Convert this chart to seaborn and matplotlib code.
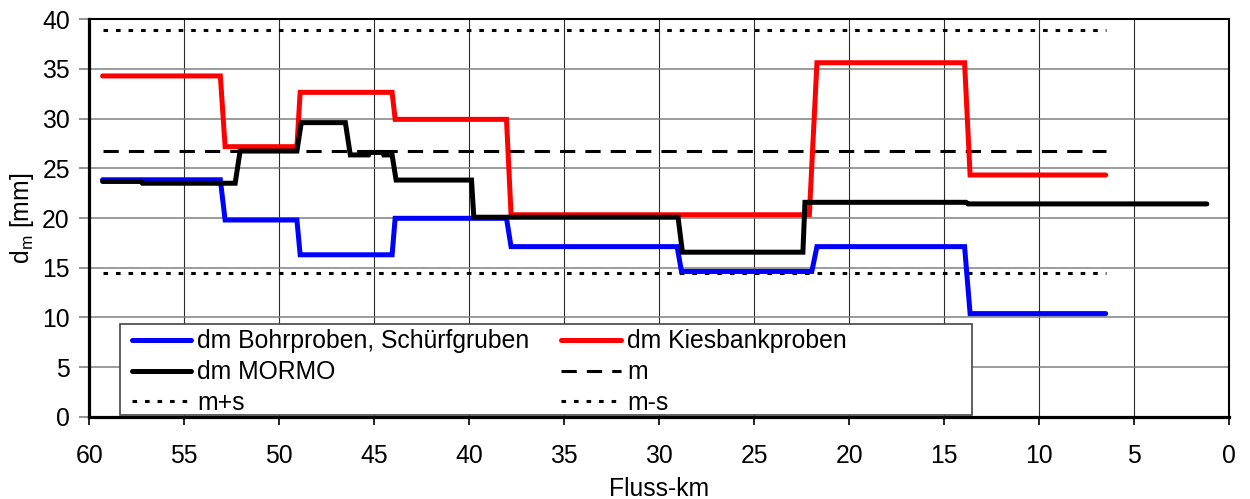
import matplotlib
matplotlib.use("Agg")
import matplotlib.pyplot as plt
import seaborn as sns
import numpy as np
from matplotlib.patches import Rectangle

# ---- data ----
blue_km = [59.3, 53.1, 52.85, 49.07, 48.9, 44.06, 43.9, 38.04, 37.8, 29.06, 28.83, 21.97, 21.7, 13.93, 13.64, 6.5]
blue_dm = [23.85, 23.85, 19.8, 19.8, 16.3, 16.3, 19.97, 19.97, 17.12, 17.12, 14.62, 14.62, 17.12, 17.12, 10.38, 10.38]

red_km = [59.3, 53.1, 52.85, 49.07, 48.9, 44.06, 43.9, 38.04, 37.8, 22.1, 21.7, 13.93, 13.64, 6.5]
red_dm = [34.3, 34.3, 27.18, 27.18, 32.65, 32.65, 29.93, 29.93, 20.33, 20.33, 35.63, 35.63, 24.33, 24.33]

black_km = [59.3, 57.3, 57.2, 52.32, 52.06, 49.07, 48.84, 46.52, 46.26, 45.3, 45.25, 44.55, 44.5, 44.06,
            43.85, 39.88, 39.76, 29.01, 28.78, 22.44, 22.33, 13.85, 13.75, 1.18]
black_dm = [23.68, 23.68, 23.5, 23.5, 26.74, 26.74, 29.6, 29.6, 26.35, 26.35, 26.6, 26.6, 26.35, 26.35,
            23.82, 23.82, 20.08, 20.08, 16.56, 16.56, 21.58, 21.58, 21.42, 21.42]

stat_km = [59.3, 6.5]
m_val = 26.7
m_plus_s = 38.9
m_minus_s = 14.45

labels = ["dm Bohrproben, Schürfgruben", "dm Kiesbankproben", "dm MORMO", "m", "m+s", "m-s"]

# ---- style ----
sns.set_style("white")
plt.rcParams["font.family"] = ["Liberation Sans", "DejaVu Sans"]
plt.rcParams["mathtext.fontset"] = "custom"
plt.rcParams["mathtext.rm"] = "Liberation Sans"
plt.rcParams["text.color"] = "black"
plt.rcParams["axes.labelcolor"] = "black"
FS = 17.8

fig = plt.figure(figsize=(12.5, 4.99), dpi=100)
ax = fig.add_axes([0.0714, 0.1649, 0.912, 0.7964])

dot = (0, (1.5, 2.6))
dash = (0, (5.0, 3.3))
ls_w = 2.2
lw = 3.6

h_ms = sns.lineplot(x=stat_km, y=[m_minus_s] * 2, ax=ax, color="black", linewidth=ls_w,
                    linestyle=dot, sort=False, estimator=None).get_lines()[-1]
h_ps = sns.lineplot(x=stat_km, y=[m_plus_s] * 2, ax=ax, color="black", linewidth=ls_w,
                    linestyle=dot, sort=False, estimator=None).get_lines()[-1]
h_m = sns.lineplot(x=stat_km, y=[m_val] * 2, ax=ax, color="black", linewidth=ls_w,
                   linestyle=dash, sort=False, estimator=None).get_lines()[-1]
h_b = sns.lineplot(x=blue_km, y=blue_dm, ax=ax, color="#0000ff", linewidth=lw,
                   sort=False, estimator=None).get_lines()[-1]
h_r = sns.lineplot(x=red_km, y=red_dm, ax=ax, color="#ff0000", linewidth=lw,
                   sort=False, estimator=None).get_lines()[-1]
h_k = sns.lineplot(x=black_km, y=black_dm, ax=ax, color="black", linewidth=lw,
                   sort=False, estimator=None).get_lines()[-1]
for h in (h_ms, h_ps, h_m):
    h.set_dash_capstyle("butt")
for h in (h_b, h_r, h_k):
    h.set_solid_joinstyle("miter")

ax.set_xlim(60, 0)
ax.set_ylim(0, 40)
ax.set_xticks(np.arange(0, 61, 5))
ax.set_yticks(np.arange(0, 41, 5))
ax.set_axisbelow(True)
ax.yaxis.grid(True, color="#808080", linewidth=1.1)
ax.xaxis.grid(True, color="#2a2a2a", linewidth=0.8)

for s in ("left", "bottom"):
    ax.spines[s].set_linewidth(2.3)
    ax.spines[s].set_color("black")
for s in ("top", "right"):
    ax.spines[s].set_linewidth(1.5)
    ax.spines[s].set_color("black")

ax.tick_params(axis="y", direction="out", length=7, width=1.2, color="#808080",
               labelcolor="black", labelsize=FS, pad=7, left=True)
ax.tick_params(axis="x", direction="out", length=6, width=1.2, color="black",
               labelcolor="black", labelsize=FS, pad=14, bottom=True)

ax.set_xlabel("Fluss-km", fontsize=FS, labelpad=6)
ax.set_ylabel(r"d$_\mathregular{m}$ [mm]", fontsize=FS, labelpad=4)

# legend frame (white box, wider than its content as in the reference)
rect = Rectangle((0.0269, 0.004), 0.7471, 0.2285, transform=ax.transAxes,
                 facecolor="white", edgecolor="#444444", linewidth=1.2, zorder=4)
ax.add_patch(rect)

handles = [h_b, h_k, h_ps, h_r, h_m, h_ms]
leg_labels = [labels[0], labels[2], labels[4], labels[1], labels[3], labels[5]]
leg = ax.legend(handles, leg_labels, ncol=2, loc="upper left",
                bbox_to_anchor=(0.0371, 0.2195), borderaxespad=0, borderpad=0,
                frameon=False, fontsize=FS, handlelength=2.4, handletextpad=0.25,
                columnspacing=1.3, labelspacing=0.27)
leg.set_zorder(5)

fig.savefig("out.png", dpi=100, facecolor="white")
